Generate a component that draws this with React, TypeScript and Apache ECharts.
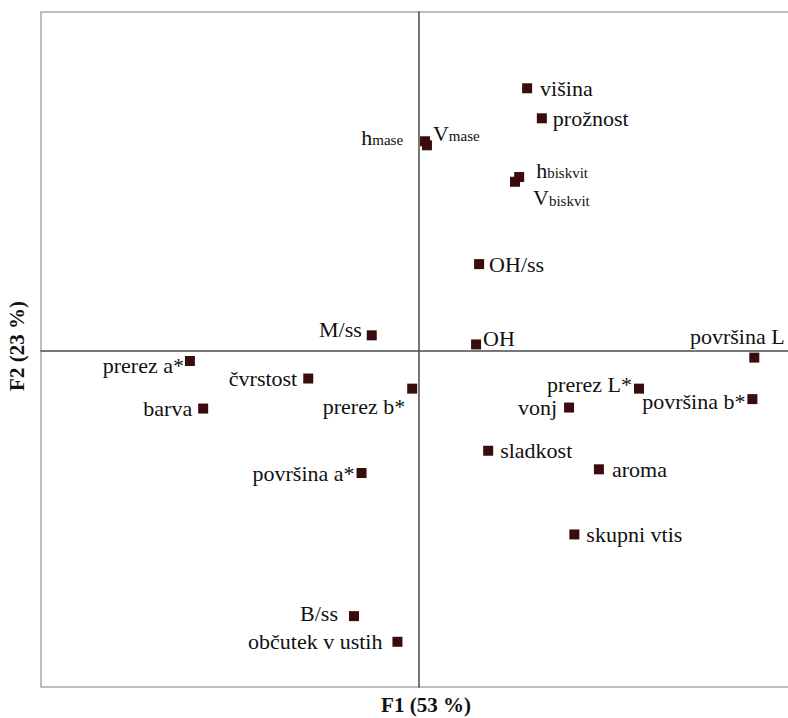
import React, { useEffect, useRef } from "react";
import * as echarts from "echarts";

const names = [
  "višina", "prožnost", "h_mase", "V_mase", "h_biskvit", "V_biskvit", "OH/ss", "M/ss", "OH",
  "površina L", "prerez a*", "čvrstost", "prerez b*", "barva", "površina a*", "prerez L*",
  "vonj", "površina b*", "sladkost", "aroma", "skupni vtis", "B/ss", "občutek v ustih",
];
const f1 = [
  0.286, 0.325, 0.016, 0.021, 0.265, 0.254, 0.159, -0.125, 0.151,
  0.887, -0.606, -0.293, -0.018, -0.571, -0.152, 0.582,
  0.397, 0.882, 0.183, 0.476, 0.411, -0.172, -0.057,
];
const f2 = [
  0.779, 0.690, 0.622, 0.610, 0.516, 0.502, 0.258, 0.047, 0.020,
  -0.019, -0.029, -0.081, -0.111, -0.170, -0.361, -0.111,
  -0.167, -0.142, -0.295, -0.350, -0.543, -0.785, -0.861,
];
const xTitle = "F1 (53 %)";
const yTitle = "F2 (23 %)";

const FONT = '"Liberation Serif", "Times New Roman", serif';
const FS = 22;

// label text (rich for subscripts)
const labelText: Record<string, string> = {
  h_mase: "{m|h}{s|mase}",
  V_mase: "{m|V}{s|mase}",
  h_biskvit: "{m|h}{s|biskvit}",
  V_biskvit: "{m|V}{s|biskvit}",
};

// label placement (style only)
const placement: Record<string, { position: string; distance?: number; offset?: number[] }> = {
  "višina": { position: "right", distance: 8 },
  "prožnost": { position: "right", distance: 6 },
  h_mase: { position: "left", distance: 17, offset: [0, -1] },
  V_mase: { position: "right", distance: 1, offset: [0, -9] },
  h_biskvit: { position: "right", distance: 12, offset: [0, -4] },
  V_biskvit: { position: "right", distance: 13, offset: [0, 19] },
  "OH/ss": { position: "right", distance: 5 },
  "M/ss": { position: "left", distance: 5, offset: [0, -6] },
  OH: { position: "right", distance: 2, offset: [0, -6] },
  "površina L": { position: "top", distance: 5, offset: [-17, 0] },
  "prerez a*": { position: "left", distance: 1, offset: [0, 5] },
  "čvrstost": { position: "left", distance: 6 },
  "prerez b*": { position: "left", distance: 2, offset: [0, 18] },
  barva: { position: "left", distance: 6 },
  "površina a*": { position: "left", distance: 2 },
  "prerez L*": { position: "left", distance: 2, offset: [0, -4] },
  vonj: { position: "left", distance: 7 },
  "površina b*": { position: "left", distance: 2, offset: [0, 2] },
  sladkost: { position: "right", distance: 7 },
  aroma: { position: "right", distance: 8 },
  "skupni vtis": { position: "right", distance: 7 },
  "B/ss": { position: "left", distance: 11, offset: [0, -3] },
  "občutek v ustih": { position: "left", distance: 10 },
};

export default function App() {
  const ref = useRef<HTMLDivElement>(null);
  useEffect(() => {
    if (!ref.current) return;
    const chart = echarts.init(ref.current, null, { renderer: "svg" });
    const data = names.map((n, i) => {
      const p = placement[n] || { position: "right" };
      return {
        name: n,
        value: [f1[i], f2[i]],
        label: {
          show: true,
          position: p.position,
          distance: p.distance ?? 5,
          formatter: labelText[n] ?? n,
        },
      };
    });
    chart.setOption({
      animation: false,
      backgroundColor: "#ffffff",
      grid: {
        left: 41,
        top: 12,
        width: 756,
        height: 675,
        show: true,
        borderColor: "#a8a8a8",
        borderWidth: 1.5,
        backgroundColor: "transparent",
        outerBoundsMode: "none",
        containLabel: false,
      },
      xAxis: {
        type: "value",
        min: -1,
        max: 1,
        axisLine: { show: true, onZero: true, lineStyle: { color: "#4a4a4a", width: 1.5 } },
        axisTick: { show: false },
        axisLabel: { show: false },
        splitLine: { show: false },
      },
      yAxis: {
        type: "value",
        min: -0.995,
        max: 1.005,
        axisLine: { show: true, onZero: true, lineStyle: { color: "#4a4a4a", width: 1.5 } },
        axisTick: { show: false },
        axisLabel: { show: false },
        splitLine: { show: false },
      },
      series: [
        {
          type: "scatter",
          symbol: "rect",
          symbolSize: 10,
          itemStyle: { color: "#3a0c0e", opacity: 1 },
          label: {
            show: true,
            color: "#111111",
            fontFamily: FONT,
            fontSize: FS,
            rich: {
              m: { fontFamily: FONT, fontSize: FS, color: "#111111", padding: [0, 0, 6, 0] },
              s: { fontFamily: FONT, fontSize: 15, color: "#111111" },
            },
          },
          labelLayout: (params: any) => {
            const n = names[params.dataIndex];
            const off = (placement[n] && placement[n].offset) || [0, 0];
            return { dx: off[0], dy: off[1], hideOverlap: false };
          },
          data,
        },
      ],
      graphic: [
        {
          type: "text",
          x: 426,
          y: 705,
          style: {
            text: xTitle,
            font: `bold 21px ${FONT}`,
            fill: "#111111",
            align: "center",
            verticalAlign: "middle",
          },
        },
        {
          type: "text",
          x: 17,
          y: 346,
          rotation: Math.PI / 2,
          style: {
            text: yTitle,
            font: `bold 21px ${FONT}`,
            fill: "#111111",
            align: "center",
            verticalAlign: "middle",
          },
        },
      ],
    });
    return () => chart.dispose();
  }, []);
  return (
    <div style={{ position: "absolute", left: 0, top: 0, width: 788, height: 718, overflow: "hidden", background: "#fff" }}>
      <div ref={ref} style={{ width: 800, height: 718 }} />
    </div>
  );
}
